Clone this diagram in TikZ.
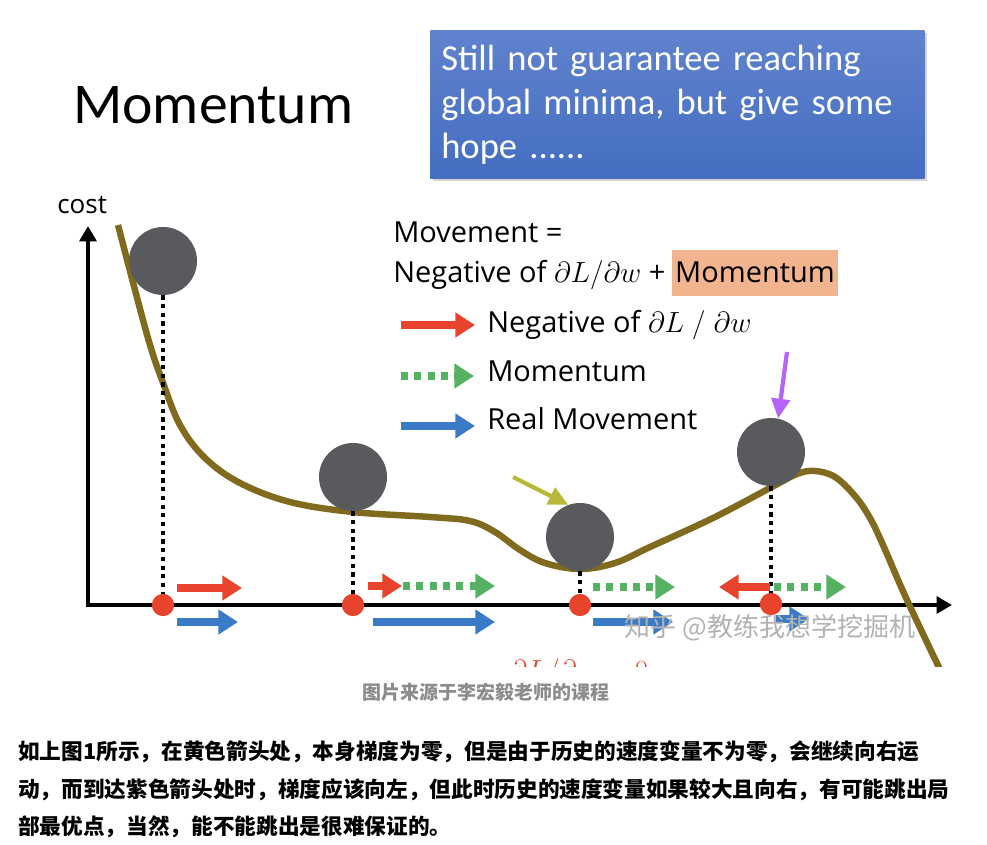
\documentclass[tikz,border=0pt]{standalone}
\usepackage{fontspec}
\setmainfont{Open Sans}
\newfontfamily\slidefont{Carlito}
\newfontfamily\cjk{Noto Sans CJK SC}
\usepackage{tikz}
\usetikzlibrary{positioning,arrows.meta,shadows}

\definecolor{curvecol}{RGB}{128,106,30}
\definecolor{ballcol}{RGB}{89,90,93}
\definecolor{gradred}{RGB}{232,67,44}
\definecolor{momgreen}{RGB}{84,178,98}
\definecolor{realblue}{RGB}{58,122,198}
\definecolor{boxtop}{RGB}{96,130,206}
\definecolor{boxbot}{RGB}{68,110,192}
\definecolor{hlorange}{RGB}{242,180,142}
\definecolor{hintyellow}{RGB}{184,184,58}
\definecolor{hintpurple}{RGB}{180,100,250}

\begin{document}
\begin{tikzpicture}[
    x=0.025cm, y=-0.025cm, font=\fontsize{20.6}{24}\selectfont,
    ball/.style={circle, fill=ballcol, minimum size=1.7cm, inner sep=0},
    hit/.style={circle, fill=gradred, minimum size=0.55cm, inner sep=0},
    drop/.style={line width=3pt, dash pattern=on 3pt off 3.2pt},
    axis/.style={line width=2.8pt, line join=miter,
      {Triangle[length=11pt,width=12pt]}-{Triangle[length=11pt,width=12pt]}},
    curve/.style={line width=4.6pt, draw=curvecol},
    gradarr/.style={line width=5pt, draw=gradred, fill=gradred,
      -{Triangle[length=14pt,width=17pt]}},
    momarr/.style={line width=5pt, draw=momgreen, fill=momgreen,
      dash pattern=on 5pt off 4.5pt, -{Triangle[length=14pt,width=17pt]}},
    realarr/.style={line width=5pt, draw=realblue, fill=realblue,
      -{Triangle[length=14pt,width=17pt]}},
    hint/.style={line width=3pt, -{Triangle[length=14pt,width=13pt]}},
    legtxt/.style={anchor=base west, inner sep=0},
    hopebox/.style={top color=boxtop, bottom color=boxbot, draw=none,
      minimum width=12.33cm, minimum height=3.7cm, text width=11.8cm,
      align=left, inner xsep=0.275cm, text=white,
      font=\slidefont\fontsize{26}{31.3}\selectfont,
      drop shadow={shadow xshift=0.06cm, shadow yshift=-0.06cm, opacity=0.35}}
]
\useasboundingbox (0,0) rectangle (987,845);

\node[legtxt, font=\slidefont\fontsize{41}{48}\selectfont] (title) at (73,124) {Momentum};
\node[hopebox, anchor=north west] (hope) at (430,30)
  {\raisebox{-3pt}{\parbox{11.8cm}{Still not guarantee reaching\\global minima, but give some\\hope ......}}};

\node[legtxt, font=\fontsize{18.5}{22}\selectfont] (cost) at (57,214) {cost};
\coordinate (orig) at (88,605);
\coordinate (ytop) at (88,226);
\coordinate (xend) at (952,605);
\draw[axis] (ytop) -- (orig) -- (xend);

\begin{scope}
  \clip (0,0) rectangle (987,666);
  \draw[curve] plot[smooth, tension=0.6] coordinates {
    (118,225) (135,290) (150,345) (162,380) (180,425) (205,458)
    (240,483) (290,502) (353,512) (430,517) (470,521) (495,532)
    (520,550) (545,563) (580,569) (615,563) (650,547) (713,518)
    (770,488) (797,474) (815,471) (835,477) (855,496) (870,518)
    (883,545) (907,600) (945,680)};
  \node[legtxt, text=gradred, font=\fontsize{20}{24}\selectfont] (zerograd)
    at (510,680) {$\partial L/\partial w = 0$};
\end{scope}

\node[ball] (b1) at (163,261) {};
\node[ball] (b2) at (353,477) {};
\node[ball] (b3) at (580,537) {};
\node[ball] (b4) at (771,452) {};
\node[hit] (d1) at (163,605) {};
\node[hit] (d2) at (353,605) {};
\node[hit] (d3) at (580,605) {};
\node[hit] (d4) at (771,604) {};
\foreach \i in {1,...,4}{
  \draw[drop] (b\i.south) -- (d\i.center);
}
\foreach \i in {1,...,4}{
  \node[hit] at (d\i) {};
}

\draw[gradarr] ([shift={(14,-17)}]d1.center) -- ++(65,0);
\draw[realarr] ([shift={(14,17)}]d1.center) -- ++(61,0);
\draw[gradarr] ([shift={(15,-19)}]d2.center) -- ++(34,0);
\draw[momarr] ([shift={(50,-19)}]d2.center) -- ++(92,0);
\draw[realarr] ([shift={(20,17)}]d2.center) -- ++(122,0);
\draw[momarr] ([shift={(13,-18)}]d3.center) -- ++(82,0);
\draw[realarr] ([shift={(13,17)}]d3.center) -- ++(80,0);
\draw[gradarr] ([shift={(-1,-17)}]d4.center) -- ++(-51,0);
\draw[momarr] ([shift={(3,-17)}]d4.center) -- ++(72,0);
\draw[realarr] ([shift={(5,15)}]d4.center) -- ++(33,0);

\coordinate (yhint) at (513,477);
\coordinate (phint) at (787,352);
\draw[hint, draw=hintyellow, fill=hintyellow] (yhint) -- (b3.110);
\draw[hint, draw=hintpurple, fill=hintpurple] (phint) -- (b4.78);

\node[legtxt] (eq1) at (393,243) {Movement =};
\node[legtxt] (eq2) at (393,283) {Negative of $\partial L/\partial w$ +};
\node[legtxt, fill=hlorange, inner xsep=0.08cm, minimum height=1.15cm,
  anchor=base west] (eqmom) at ([xshift=0.15cm]eq2.base east) {Momentum};
\node[legtxt] (leg1) at (487,333) {Negative of $\partial L \;/\; \partial w$};
\node[legtxt] (leg2) at (487,382) {Momentum};
\node[legtxt] (leg3) at (487,430) {Real Movement};
\draw[gradarr] ([shift={(-86,-8)}]leg1.base west) -- ++(74,0);
\draw[momarr] ([shift={(-86,-6)}]leg2.base west) -- ++(73,0);
\draw[realarr] ([shift={(-86,-4)}]leg3.base west) -- ++(74,0);

\node[anchor=west, text=black!30, font=\cjk\fontsize{18.5}{20}\selectfont]
  (mark) at (620,628) {知乎 @教练我想学挖掘机};

\node[text=black!45, font=\cjk\bfseries\fontsize{13.5}{16}\selectfont]
  (caption) at (486,692) {图片来源于李宏毅老师的课程};
\node[legtxt, font=\cjk\bfseries\fontsize{15.4}{18}\selectfont] (para1) at (18,759)
  {如上图1所示，在黄色箭头处，本身梯度为零，但是由于历史的速度变量不为零，会继续向右运};
\node[legtxt, font=\cjk\bfseries\fontsize{15.4}{18}\selectfont] (para2) at (18,797)
  {动，而到达紫色箭头处时，梯度应该向左，但此时历史的速度变量如果较大且向右，有可能跳出局};
\node[legtxt, font=\cjk\bfseries\fontsize{15.4}{18}\selectfont] (para3) at (18,834)
  {部最优点，当然，能不能跳出是很难保证的。};
\end{tikzpicture}
\end{document}
